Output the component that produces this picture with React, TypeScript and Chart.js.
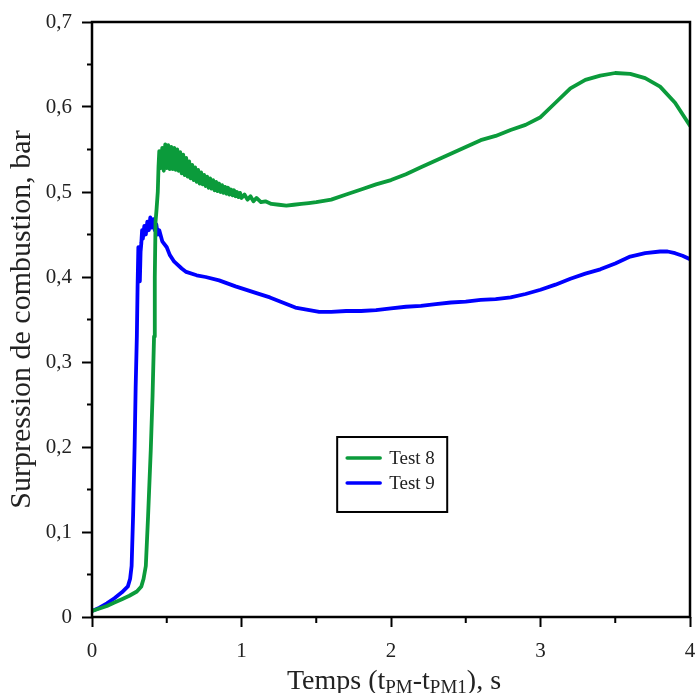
import React, { useEffect, useRef } from "react";
import { Chart, registerables } from "chart.js";

Chart.register(...registerables);

// ---- data (time in s, overpressure in bar) ----
const test8Time = [
  0, 0.05, 0.1, 0.15, 0.2, 0.25, 0.3, 0.33, 0.345, 0.36, 0.375, 0.393, 0.405, 0.415, 0.42, 0.425, 0.432, 0.44, 0.445, 0.45,
  0.46, 0.47, 0.48, 0.49, 0.5, 0.51, 0.52, 0.53, 0.54, 0.55, 0.56, 0.57, 0.58, 0.59, 0.6, 0.61, 0.62, 0.63, 0.64, 0.65,
  0.66, 0.67, 0.68, 0.69, 0.7, 0.71, 0.72, 0.73, 0.74, 0.75, 0.76, 0.77, 0.78, 0.79, 0.8, 0.81, 0.82, 0.83, 0.84, 0.85,
  0.86, 0.87, 0.88, 0.89, 0.9, 0.91, 0.92, 0.93, 0.94, 0.95, 0.96, 0.97, 0.98, 0.99, 1.0, 1.02, 1.04, 1.06, 1.08, 1.1,
  1.13, 1.16, 1.2, 1.25, 1.3, 1.35, 1.4, 1.45, 1.5, 1.6, 1.7, 1.8, 1.9, 2.0, 2.1, 2.2, 2.3, 2.4, 2.5, 2.6,
  2.7, 2.8, 2.9, 3.0, 3.1, 3.2, 3.3, 3.4, 3.5, 3.6, 3.7, 3.8, 3.9, 4.0,
];
const test8Pressure = [
  0.007, 0.01, 0.013, 0.017, 0.021, 0.025, 0.03, 0.036, 0.045, 0.06, 0.118, 0.196, 0.26, 0.33, 0.4, 0.465, 0.48, 0.5, 0.53, 0.548,
  0.528, 0.552, 0.525, 0.556, 0.528, 0.555, 0.527, 0.553, 0.527, 0.552, 0.526, 0.55, 0.525, 0.547, 0.522, 0.544, 0.52, 0.54, 0.518, 0.536,
  0.516, 0.532, 0.514, 0.529, 0.512, 0.526, 0.51, 0.523, 0.509, 0.52, 0.507, 0.518, 0.505, 0.516, 0.504, 0.514, 0.502, 0.512, 0.501, 0.51,
  0.5, 0.508, 0.499, 0.506, 0.498, 0.505, 0.497, 0.503, 0.496, 0.502, 0.495, 0.5, 0.494, 0.499, 0.493, 0.497, 0.491, 0.495, 0.489, 0.493,
  0.488, 0.489, 0.486, 0.485, 0.484, 0.485, 0.486, 0.487, 0.488, 0.491, 0.497, 0.503, 0.509, 0.514, 0.521, 0.529, 0.537, 0.545, 0.553, 0.561,
  0.566, 0.573, 0.579, 0.588, 0.605, 0.622, 0.632, 0.637, 0.64, 0.639, 0.634, 0.624, 0.605, 0.578,
];

const test9Time = [
  0, 0.05, 0.1, 0.15, 0.2, 0.24, 0.255, 0.265, 0.275, 0.285, 0.292, 0.3, 0.305, 0.31, 0.315, 0.32, 0.325, 0.33, 0.335, 0.34,
  0.35, 0.36, 0.37, 0.38, 0.39, 0.4, 0.41, 0.42, 0.43, 0.44, 0.45, 0.47, 0.5, 0.52, 0.55, 0.6, 0.63, 0.7, 0.76, 0.85,
  0.96, 1.1, 1.19, 1.36, 1.52, 1.6, 1.7, 1.8, 1.9, 2.0, 2.1, 2.2, 2.3, 2.4, 2.5, 2.6, 2.7, 2.8, 2.9, 3.0,
  3.1, 3.2, 3.3, 3.4, 3.5, 3.6, 3.7, 3.8, 3.85, 3.9, 3.95, 4.0,
];
const test9Pressure = [
  0.007, 0.011, 0.016, 0.022, 0.029, 0.036, 0.045, 0.06, 0.12, 0.2, 0.27, 0.33, 0.39, 0.435, 0.4, 0.395, 0.43, 0.44, 0.455, 0.445,
  0.46, 0.45, 0.465, 0.455, 0.47, 0.458, 0.468, 0.455, 0.462, 0.45, 0.455, 0.442, 0.435, 0.426, 0.418, 0.41, 0.406, 0.402, 0.4, 0.396,
  0.389, 0.381, 0.376, 0.364, 0.359, 0.359, 0.36, 0.36, 0.361, 0.363, 0.365, 0.366, 0.368, 0.37, 0.371, 0.373, 0.374, 0.376, 0.38, 0.385,
  0.391, 0.398, 0.404, 0.409, 0.416, 0.424, 0.428, 0.43, 0.43, 0.428, 0.425, 0.421,
];

const seriesLabels = ["Test 8", "Test 9"];
const seriesColors = ["#0b9b3b", "#0000ff"];
const yTitle = "Surpression de combustion, bar";
const xTitleParts = [
  { text: "Temps (t", sub: false },
  { text: "PM", sub: true },
  { text: "-t", sub: false },
  { text: "PM1", sub: true },
  { text: "), s", sub: false },
];
const xMinorTicks = [0.5, 1.5, 2.5, 3.5];
const yMinorTicks = [0.05, 0.15, 0.25, 0.35, 0.45, 0.55, 0.65];

const FONT = "'Liberation Serif', 'Times New Roman', serif";

const framePlugin = {
  id: "framePlugin",
  afterDatasetsDraw(chart: any) {
    const { ctx, chartArea, scales } = chart;
    const { left, right, top, bottom } = chartArea;
    ctx.save();
    // frame
    ctx.strokeStyle = "#000";
    ctx.lineWidth = 2.5;
    ctx.strokeRect(left, top, right - left, bottom - top);
    // minor ticks
    ctx.lineWidth = 2;
    ctx.beginPath();
    xMinorTicks.forEach((v) => {
      const px = scales.x.getPixelForValue(v);
      ctx.moveTo(px, bottom);
      ctx.lineTo(px, bottom + 6);
    });
    yMinorTicks.forEach((v) => {
      const py = scales.y.getPixelForValue(v);
      ctx.moveTo(left, py);
      ctx.lineTo(left - 5, py);
    });
    ctx.stroke();

    // x title with subscripts
    const mainFont = `28px ${FONT}`;
    const subFont = `19px ${FONT}`;
    let total = 0;
    xTitleParts.forEach((p) => {
      ctx.font = p.sub ? subFont : mainFont;
      total += ctx.measureText(p.text).width;
    });
    let x = (left + right) / 2 + 3 - total / 2;
    const baseY = 689;
    ctx.fillStyle = "#222";
    ctx.textBaseline = "alphabetic";
    ctx.textAlign = "left";
    xTitleParts.forEach((p) => {
      ctx.font = p.sub ? subFont : mainFont;
      ctx.fillText(p.text, x, p.sub ? baseY + 4 : baseY);
      x += ctx.measureText(p.text).width;
    });

    // legend box
    const w = right - left;
    const h = bottom - top;
    const bx = left + 0.41 * w;
    const by = top + 0.6975 * h;
    const bw = 0.184 * w;
    const bh = 0.126 * h;
    ctx.lineWidth = 2;
    ctx.strokeStyle = "#000";
    ctx.strokeRect(bx, by, bw, bh);
    ctx.font = `19px ${FONT}`;
    ctx.textBaseline = "middle";
    seriesLabels.forEach((label, i) => {
      const ly = by + 21 + i * 25;
      ctx.strokeStyle = seriesColors[i];
      ctx.lineWidth = 3.5;
      ctx.lineCap = "round";
      ctx.beginPath();
      ctx.moveTo(bx + 10, ly);
      ctx.lineTo(bx + 43, ly);
      ctx.stroke();
      ctx.fillStyle = "#222";
      ctx.fillText(label, bx + 52, ly + 1);
    });
    ctx.restore();
  },
};

export default function App() {
  const canvasRef = useRef<HTMLCanvasElement | null>(null);

  useEffect(() => {
    if (!canvasRef.current) return;
    const chart = new Chart(canvasRef.current, {
      type: "line",
      data: {
        datasets: [
          {
            label: seriesLabels[0],
            data: test8Time.map((t, i) => ({ x: t, y: test8Pressure[i] })),
            borderColor: seriesColors[0],
            borderWidth: 3.8,
            borderJoinStyle: "round",
            borderCapStyle: "round",
            pointRadius: 0,
            tension: 0,
            fill: false,
          },
          {
            label: seriesLabels[1],
            data: test9Time.map((t, i) => ({ x: t, y: test9Pressure[i] })),
            borderColor: seriesColors[1],
            borderWidth: 3.8,
            borderJoinStyle: "round",
            borderCapStyle: "round",
            pointRadius: 0,
            tension: 0,
            fill: false,
          },
        ],
      },
      options: {
        animation: false,
        responsive: true,
        maintainAspectRatio: false,
        events: [],
        layout: { padding: { left: 0, right: 5, top: 22, bottom: 0 } },
        plugins: {
          legend: { display: false },
          tooltip: { enabled: false },
        },
        scales: {
          x: {
            type: "linear",
            min: 0,
            max: 4,
            afterFit: (scale: any) => {
              scale.height = 76;
              scale.paddingLeft = 0;
              scale.paddingRight = 0;
            },
            ticks: {
              stepSize: 1,
              padding: 12,
              color: "#222",
              font: { family: FONT, size: 21 },
              callback: (v: any) => String(v),
            },
            grid: {
              drawOnChartArea: false,
              drawTicks: true,
              tickLength: 10,
              tickWidth: 2,
              tickColor: "#000",
            },
            border: { display: false },
          },
          y: {
            type: "linear",
            min: 0,
            max: 0.7,
            afterFit: (scale: any) => {
              scale.width = 92;
              scale.paddingTop = 0;
              scale.paddingBottom = 0;
            },
            ticks: {
              stepSize: 0.1,
              padding: 10,
              color: "#222",
              font: { family: FONT, size: 21 },
              callback: (v: any) => {
                const n = Math.round(Number(v) * 10) / 10;
                return n === 0 ? "0" : n.toFixed(1).replace(".", ",");
              },
            },
            grid: {
              drawOnChartArea: false,
              drawTicks: true,
              tickLength: 10,
              tickWidth: 2,
              tickColor: "#000",
            },
            border: { display: false },
            title: {
              display: true,
              text: yTitle,
              color: "#222",
              font: { family: FONT, size: 30 },
              padding: { top: 4, bottom: 0 },
            },
          },
        },
      },
      plugins: [framePlugin],
    });
    return () => chart.destroy();
  }, []);

  return (
    <div style={{ position: "fixed", left: 0, top: 0, width: 695, height: 693, background: "#fff" }}>
      <canvas ref={canvasRef} />
    </div>
  );
}
